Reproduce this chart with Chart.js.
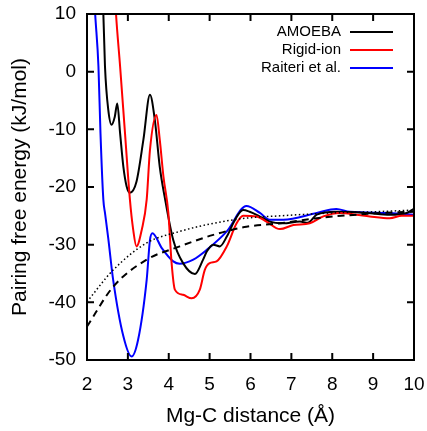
<!DOCTYPE html>
<html>
<head>
<meta charset="utf-8">
<script src="https://cdn.jsdelivr.net/npm/chart.js@4"></script>
<style>
  body { margin: 0; background: #fff; }
</style>
</head>
<body>
<canvas id="pmfChart" width="427" height="431"></canvas>
<script>
// values
const amoebaX = [2.36, 2.40, 2.44, 2.52, 2.60, 2.68, 2.74, 2.81, 2.89, 2.97, 3.05, 3.21, 3.38, 3.54, 3.66, 3.78, 3.90, 4.11, 4.35, 4.64, 4.84, 4.93, 5.09, 5.25, 5.42, 5.62, 5.82, 5.98, 6.20, 6.47, 6.80, 7.21, 7.40, 7.62, 8.10, 8.84, 9.41, 9.82, 10.0];
const amoebaY = [14, 10, 0.9, -6.6, -9.2, -7.8, -5.5, -10.7, -16.5, -19.9, -21.0, -19.1, -11.8, -4.0, -8.4, -16.5, -21.7, -29.2, -33.2, -35.1, -32.6, -31.2, -30.0, -30.3, -28.6, -25.7, -24.0, -24.3, -25.0, -26.0, -26.3, -26.0, -26.2, -24.8, -24.3, -24.5, -24.8, -24.5, -23.8];

const rigidX = [2.68, 2.71, 2.81, 2.93, 3.05, 3.13, 3.21, 3.34, 3.46, 3.54, 3.70, 3.78, 3.87, 3.99, 4.07, 4.15, 4.35, 4.56, 4.76, 4.88, 5.00, 5.17, 5.42, 5.66, 5.82, 6.15, 6.39, 6.72, 7.05, 7.45, 7.78, 8.19, 8.59, 8.92, 9.41, 9.70, 10.0];
const rigidY = [14, 10, 0.9, -10.7, -22.2, -27.4, -30.3, -27.4, -22.2, -13.6, -7.5, -11.8, -18.2, -24.5, -33.2, -37.8, -38.7, -39.3, -37.8, -34.4, -33.2, -32.9, -30.3, -26.3, -25.0, -25.1, -26.0, -27.3, -26.6, -26.3, -25.1, -24.5, -24.8, -25.1, -25.4, -25.0, -25.0];

const raiteriX = [2.17, 2.20, 2.28, 2.33, 2.40, 2.44, 2.52, 2.64, 2.89, 3.09, 3.25, 3.46, 3.54, 3.60, 3.83, 4.11, 4.27, 4.60, 4.93, 5.42, 5.90, 6.23, 6.47, 6.80, 7.62, 8.10, 8.43, 9.41, 10.0];
const raiteriY = [14, 10, 0.9, -10.7, -22.2, -24.5, -28.9, -36.1, -45.9, -49.4, -46.5, -36.1, -29.2, -28.0, -30.6, -32.9, -33.3, -32.6, -30.9, -27.7, -23.3, -24.5, -25.7, -25.7, -24.5, -23.8, -24.3, -24.5, -24.8];

const dottedX = [2.0, 2.64, 3.46, 4.27, 5.09, 5.90, 6.72, 8.0, 9.0, 10.0];
const dottedY = [-39.9, -34.4, -29.7, -27.7, -26.3, -25.4, -25.0, -24.5, -24.3, -24.0];

const dashedX = [2.0, 2.64, 3.46, 4.27, 5.09, 5.90, 6.72, 7.62, 9.25, 10.0];
const dashedY = [-44.2, -37.3, -32.6, -30.3, -28.3, -26.9, -26.3, -25.4, -24.5, -24.3];

const xTicks = [2, 3, 4, 5, 6, 7, 8, 9, 10];
const yTicks = [-50, -40, -30, -20, -10, 0, 10];

const legendNames = ['AMOEBA', 'Rigid-ion', 'Raiteri et al.'];
const legendColors = ['#000000', '#ff0000', '#0000ff'];

const FONT = '"Liberation Sans", Arial, sans-serif';

function pts(xs, ys) {
    return xs.map((x, i) => ({ x: x, y: ys[i] }));
}

function line(label, xs, ys, color, extra) {
    return Object.assign({
        label: label,
        data: pts(xs, ys),
        borderColor: color,
        borderWidth: 2,
        pointRadius: 0,
        fill: false,
        cubicInterpolationMode: 'monotone'
    }, extra || {});
}

// frame, inward ticks on all four sides, and the legend
const framePlugin = {
    id: 'frame',
    afterDraw(chart) {
        const c = chart.ctx;
        const a = chart.chartArea;
        const xs = chart.scales.x, ys = chart.scales.y;
        const tl = 7;
        c.save();
        c.strokeStyle = '#000';
        c.lineWidth = 2;
        c.strokeRect(a.left, a.top, a.right - a.left, a.bottom - a.top);
        c.beginPath();
        xTicks.slice(1, -1).forEach(v => {
            const px = xs.getPixelForValue(v);
            c.moveTo(px, a.bottom); c.lineTo(px, a.bottom - tl);
            c.moveTo(px, a.top); c.lineTo(px, a.top + tl);
        });
        yTicks.slice(1, -1).forEach(v => {
            const py = ys.getPixelForValue(v);
            c.moveTo(a.left, py); c.lineTo(a.left + tl, py);
            c.moveTo(a.right, py); c.lineTo(a.right - tl, py);
        });
        c.stroke();

        // legend
        c.font = '15px ' + FONT;
        c.textAlign = 'right';
        c.textBaseline = 'middle';
        legendNames.forEach((name, i) => {
            const y = 32 + i * 18;
            c.fillStyle = '#000';
            c.fillText(name, 341, y);
            c.strokeStyle = legendColors[i];
            c.lineWidth = 2;
            c.beginPath();
            c.moveTo(350, y);
            c.lineTo(393, y);
            c.stroke();
        });
        c.restore();
    }
};

const ctx = document.getElementById('pmfChart').getContext('2d');

new Chart(ctx, {
    type: 'line',
    data: {
        datasets: [
            line('dotted', dottedX, dottedY, '#000000', { borderWidth: 1.5, borderDash: [1.5, 2.5] }),
            line('dashed', dashedX, dashedY, '#000000', { borderDash: [7, 5] }),
            line('Rigid-ion', rigidX, rigidY, '#ff0000'),
            line('AMOEBA', amoebaX, amoebaY, '#000000'),
            line('Raiteri et al.', raiteriX, raiteriY, '#0000ff')
        ]
    },
    options: {
        responsive: false,
        animation: false,
        layout: { autoPadding: false, padding: { top: 14, right: 13, left: 0, bottom: 0 } },
        plugins: {
            legend: { display: false },
            tooltip: { enabled: false }
        },
        scales: {
            x: {
                type: 'linear',
                min: 2,
                max: 10,
                afterBuildTicks: s => { s.ticks = xTicks.map(v => ({ value: v })); },
                afterFit: s => {
                    s.height = 71;
                    s.paddingLeft = 0;
                    s.paddingRight = 0;
                },
                grid: { display: false, drawTicks: false },
                border: { display: false },
                ticks: { color: '#000', font: { family: FONT, size: 19 }, padding: 13, maxRotation: 0 },
                title: {
                    display: true,
                    text: 'Mg-C distance (Å)',
                    color: '#000',
                    font: { family: FONT, size: 21 },
                    padding: { top: 0, bottom: 2 }
                }
            },
            y: {
                min: -50,
                max: 10,
                afterBuildTicks: s => { s.ticks = yTicks.map(v => ({ value: v })); },
                afterFit: s => {
                    s.width = 87;
                    s.paddingTop = 0;
                    s.paddingBottom = 0;
                },
                grid: { display: false, drawTicks: false },
                border: { display: false },
                ticks: { color: '#000', font: { family: FONT, size: 19 }, padding: 11 },
                title: {
                    display: true,
                    text: 'Pairing free energy (kJ/mol)',
                    color: '#000',
                    font: { family: FONT, size: 21 },
                    padding: { top: 8, bottom: 0 }
                }
            }
        }
    },
    plugins: [framePlugin]
});
</script>
</body>
</html>
